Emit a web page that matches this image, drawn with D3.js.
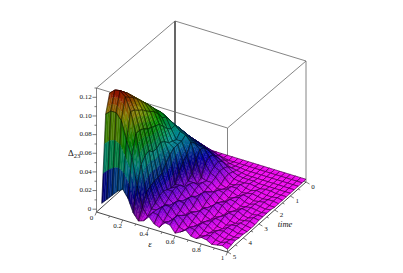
<!DOCTYPE html>
<html>
<head>
<meta charset="utf-8">
<script src="https://cdn.jsdelivr.net/npm/d3@7"></script>
<style>
html, body { margin: 0; padding: 0; background: #fff; }
text { font-family: "Liberation Serif", serif; fill: #111; opacity: 0.98; }
</style>
</head>
<body>
<div id="chart-area"></div>
<script>
// epsilon values (columns) and time values (rows) of the grid
const epsValues = [0.04, 0.08, 0.12, 0.16, 0.20, 0.24, 0.28, 0.32, 0.36, 0.40, 0.44, 0.48, 0.52,
    0.56, 0.60, 0.64, 0.68, 0.72, 0.76, 0.80, 0.84, 0.88, 0.92, 0.96, 1.00]
const timeValues = [0, 0.25, 0.5, 0.75, 1, 1.25, 1.5, 1.75, 2, 2.25, 2.5, 2.75, 3, 3.25, 3.5, 3.75,
    4, 4.25, 4.5, 4.75, 5]
// Delta_23, in units of 0.001, one row per time value
const deltaRows = [
    [0,0,0,0,0,0,0,0,0,0,0,0,0,0,0,0,0,0,0,0,0,0,0,0,0],
    [11,12,12,11,10,8,6,4,2,1,0,0,0,0,0,0,0,0,0,0,0,0,0,0,0],
    [20,21,21,19,17,15,13,11,9,7,4,2,1,1,0,0,0,0,0,0,0,0,0,0,0],
    [27,29,28,26,23,21,18,16,14,11,8,5,3,2,1,0,0,0,0,0,0,0,0,0,0],
    [34,36,36,34,31,28,26,23,21,18,15,12,8,4,2,1,1,1,0,0,0,0,0,0,0],
    [42,44,44,41,38,35,32,30,28,25,21,16,10,6,2,1,1,2,1,0,1,1,0,0,0],
    [48,51,51,48,45,42,38,35,32,31,23,14,11,5,0,1,3,1,0,2,1,0,0,1,0],
    [55,58,58,56,52,48,44,40,38,33,19,11,8,2,0,3,3,0,1,2,1,0,1,1,0],
    [62,65,65,64,60,56,51,49,43,25,8,6,6,1,2,4,2,0,3,2,0,1,2,0,0],
    [68,72,72,71,67,56,46,46,33,14,5,8,5,1,5,4,0,2,4,1,0,2,1,0,1],
    [74,78,78,76,70,60,48,46,29,10,10,9,3,5,7,2,0,4,3,0,1,2,1,0,1],
    [81,85,85,83,78,66,50,46,21,8,12,7,3,9,6,0,3,5,2,0,3,2,0,1,1],
    [86,91,91,89,84,72,55,42,12,13,12,4,6,11,4,0,6,5,0,2,4,1,0,2,1],
    [92,97,97,95,88,74,58,37,12,15,9,5,10,9,1,3,7,2,0,4,3,0,1,2,0],
    [98,103,103,101,92,76,55,30,14,14,6,7,12,5,1,6,5,0,2,5,1,0,2,1,0],
    [104,109,109,107,97,78,55,29,16,10,6,11,10,3,4,7,3,1,4,3,0,2,3,1,0],
    [109,115,115,112,100,82,60,29,15,7,8,13,6,3,7,5,0,3,5,1,0,3,2,0,1],
    [114,120,120,116,104,84,58,27,11,7,12,11,4,6,8,3,1,5,4,0,2,3,1,0,1],
    [119,124,125,120,106,84,52,24,8,9,14,7,4,10,6,0,3,6,2,1,4,2,0,1,2],
    [100,105,105,98,78,62,33,12,4,10,9,3,5,10,3,1,6,5,0,2,4,1,0,2,1],
    [8,14,20,26,30,22,8,1,3,9,3,1,8,7,0,3,7,2,1,4,3,0,1,2,0]
]
const zTicks = [0, 0.02, 0.04, 0.06, 0.08, 0.10, 0.12]
const zMinorTicks = [0.01, 0.03, 0.05, 0.07, 0.09, 0.11, 0.13]
const epsTicks = [0, 0.2, 0.4, 0.6, 0.8, 1]
const epsMinorTicks = [0.1, 0.3, 0.5, 0.7, 0.9]
const timeTicks = [0, 1, 2, 3, 4, 5]
const timeMinorTicks = [0.5, 1.5, 2.5, 3.5, 4.5]

const WIDTH = 403
const HEIGHT = 273
const SUB = 3

let svg = d3.select("#chart-area").append("svg")
    .attr("width", WIDTH)
    .attr("height", HEIGHT)
    .style("display", "block")

// screen position is the sum of three scales, plus a little perspective on the height
let xEps = d3.scaleLinear().domain([0, 1]).range([0, 131])
let yEps = d3.scaleLinear().domain([0, 1]).range([0, 40])
let xTime = d3.scaleLinear().domain([5, 0]).range([96.5, 175])
let yTime = d3.scaleLinear().domain([5, 0]).range([212, 142])
let yZ = d3.scaleLinear().domain([-0.003, 0.13]).range([0, -124])
let depth = d3.scaleLinear().domain([0, 5]).range([121 / 124, 1])
let hue = d3.scaleLinear().domain([0, 0.125]).range([300, 0]).clamp(true)
// the hump is drawn darker than the flat floor
let shadeCap = d3.scaleLinear().domain([0, 0.03]).range([0.95, 0.56]).clamp(true)

function project(e, t, z) {
    return [xEps(e) + xTime(t), yEps(e) + yTime(t) + yZ(z) * depth(t)]
}

let line = d3.line()
const Z0 = -0.003, Z1 = 0.13

function edge(a, b, color, w) {
    svg.append("path")
        .attr("d", line([project(...a), project(...b)]))
        .attr("fill", "none")
        .attr("stroke", color)
        .attr("stroke-width", w)
}

// box behind the surface
edge([0, 0, Z0], [0, 0, Z1], "#000", 1.2)
edge([0, 0, Z1], [1, 0, Z1], "#666", 0.8)
edge([0, 0, Z1], [0, 5, Z1], "#666", 0.8)
edge([0, 5, Z1], [1, 5, Z1], "#666", 0.8)
edge([1, 0, Z1], [1, 5, Z1], "#666", 0.8)
edge([1, 0, Z0], [1, 0, Z1], "#666", 0.8)
edge([1, 5, Z0], [1, 5, Z1], "#666", 0.8)
edge([0, 5, Z0], [0, 5, Z1], "#666", 0.8)
edge([0, 0, Z0], [1, 0, Z0], "#666", 0.8)
edge([0, 0, Z0], [0, 5, Z0], "#333", 0.9)

function zAt(j, i) {
    return deltaRows[j][i] / 1000
}

// brightness at a grid node from the local slope, flat parts are brightest
function nodeShade(j, i) {
    let i0 = Math.max(i - 1, 0), i1 = Math.min(i + 1, epsValues.length - 1)
    let j0 = Math.max(j - 1, 0), j1 = Math.min(j + 1, timeValues.length - 1)
    let dzE = (zAt(j, i1) - zAt(j, i0)) / (i1 - i0) * 935 / 5.5
    let dzT = (zAt(j1, i) - zAt(j0, i)) / (j1 - j0) * 935 / 5.3
    let v = 0.95 / Math.sqrt(1 + (dzE * dzE + dzT * dzT) * 0.3)
    return Math.max(0.48, v)
}

let surface = svg.append("g")
let cells = []
for (let j = 0; j < timeValues.length - 1; j++) {
    for (let i = 0; i < epsValues.length - 1; i++) {
        cells.push({i: i, j: j})
    }
}
// far cells first
cells.sort((a, b) => (a.i + a.j) - (b.i + b.j))

function blend(a, b, c, d, u, w) {
    return (a * (1 - u) + b * u) * (1 - w) + (c * (1 - u) + d * u) * w
}

cells.forEach(c => {
    let i = c.i, j = c.j
    let e0 = epsValues[i], e1 = epsValues[i + 1]
    let t0 = timeValues[j], t1 = timeValues[j + 1]
    function pt(u, w) {
        let z = blend(zAt(j, i), zAt(j, i + 1), zAt(j + 1, i), zAt(j + 1, i + 1), u, w)
        return project(e0 + (e1 - e0) * u, t0 + (t1 - t0) * w, z)
    }
    for (let a = 0; a < SUB; a++) {
        for (let b = 0; b < SUB; b++) {
            let u = (a + 0.5) / SUB, w = (b + 0.5) / SUB
            let z = blend(zAt(j, i), zAt(j, i + 1), zAt(j + 1, i), zAt(j + 1, i + 1), u, w)
            let v = blend(nodeShade(j, i), nodeShade(j, i + 1), nodeShade(j + 1, i), nodeShade(j + 1, i + 1), u, w)
            v = Math.min(v, shadeCap(z))
            let color = d3.hsl(hue(z), 1, v / 2).formatHex()
            surface.append("path")
                .attr("d", line([pt(a / SUB, b / SUB), pt((a + 1) / SUB, b / SUB),
                    pt((a + 1) / SUB, (b + 1) / SUB), pt(a / SUB, (b + 1) / SUB)]) + "Z")
                .attr("fill", color)
                .attr("stroke", color)
                .attr("stroke-width", 0.3)
        }
    }
    surface.append("path")
        .attr("d", line([pt(0, 0), pt(1, 0), pt(1, 1), pt(0, 1)]) + "Z")
        .attr("fill", "none")
        .attr("stroke", "#000")
        .attr("stroke-width", 0.55)
        .attr("stroke-opacity", 0.85)
})

// axes in front
edge([0, 5, Z0], [1, 5, Z0], "#333", 0.9)
edge([1, 5, Z0], [1, 0, Z0], "#333", 0.9)

function tick(p, dx, dy) {
    svg.append("line")
        .attr("x1", p[0]).attr("y1", p[1])
        .attr("x2", p[0] + dx).attr("y2", p[1] + dy)
        .attr("stroke", "#444")
        .attr("stroke-width", 0.7)
}

function label(x, y, s) {
    return svg.append("text")
        .attr("x", x).attr("y", y)
        .attr("text-anchor", "middle")
        .attr("dominant-baseline", "middle")
        .attr("font-size", "7px")
        .text(s)
}

zTicks.forEach(z => {
    let p = project(0, 5, z)
    tick(p, -4, 0)
    if (z === 0) label(p[0] - 7, p[1], "0")
    else label(p[0] - 11, p[1], d3.format(".2f")(z))
})
zMinorTicks.forEach(z => tick(project(0, 5, z), -2, 0))

epsTicks.forEach(e => {
    let p = project(e, 5, Z0)
    tick(p, -1.5, 3.5)
    label(p[0] - 5, p[1] + 6.5, e === 0 || e === 1 ? String(e) : d3.format(".1f")(e))
})
epsMinorTicks.forEach(e => {
    let p = project(e, 5, Z0)
    tick(p, -1, 2)
})

timeTicks.forEach(t => {
    let p = project(1, t, Z0)
    tick(p, 3.5, 2)
    label(p[0] + 7, p[1] + 5, String(t))
})
timeMinorTicks.forEach(t => {
    let p = project(1, t, Z0)
    tick(p, 2, 1)
})

// axis titles
svg.append("text")
    .attr("x", 150).attr("y", 245)
    .attr("text-anchor", "middle").attr("dominant-baseline", "middle")
    .attr("font-size", "9px").attr("font-style", "italic")
    .text("ε")
svg.append("text")
    .attr("x", 285).attr("y", 225)
    .attr("text-anchor", "middle").attr("dominant-baseline", "middle")
    .attr("font-size", "8.5px").attr("font-style", "italic")
    .text("time")
let delta = svg.append("text")
    .attr("x", 68).attr("y", 156)
    .attr("font-size", "9px")
delta.append("tspan").text("Δ")
delta.append("tspan").attr("font-size", "6.5px").attr("dy", 2).text("23")
</script>
</body>
</html>
